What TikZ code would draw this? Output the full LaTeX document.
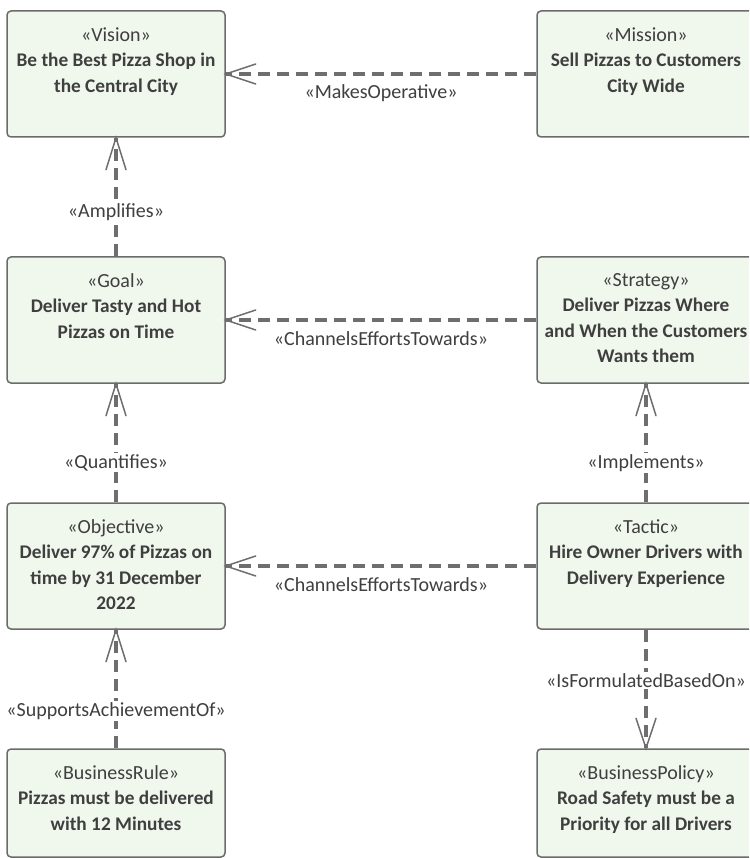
\documentclass[tikz,border=0pt]{standalone}
\usepackage{fontspec}
\setmainfont{Carlito}
\usetikzlibrary{calc}
\definecolor{boxfill}{HTML}{F0F8EE}
\definecolor{boxline}{HTML}{6B6B6B}
\definecolor{txt}{HTML}{3F3F3F}
\definecolor{conn}{HTML}{6E6E6E}
\newcommand{\nm}[1]{{\fontsize{19.3}{25.5}\selectfont\bfseries #1}}
\tikzset{
  elem/.style={draw=boxline, fill=boxfill, line width=1.5pt, rounded corners=4pt,
    minimum width=218pt, minimum height=126pt, inner sep=0pt},
  shortelem/.style={elem, minimum height=108pt},
  elemtext/.style={anchor=north, inner sep=0pt, align=center, text=txt,
    font=\fontsize{20}{25.5}\selectfont},
  rel/.style={draw=conn, line width=4pt, dash pattern=on 12pt off 7pt},
  barb/.style={draw=conn, line width=1.5pt, line cap=round},
  rellabel/.style={fill=white, inner sep=1.5pt, text=txt,
    font=\fontsize{20}{24}\selectfont},
}
\begin{document}
\begin{tikzpicture}[x=1pt,y=-1pt]
\useasboundingbox (0,0) rectangle (749,858);
\clip (0,0) rectangle (749,858);

% element boxes
\node[elem] (vision)    at (116,74)  {};
\node[elem] (mission)   at (646,74)  {};
\node[elem] (goal)      at (116,320) {};
\node[elem] (strategy)  at (646,320) {};
\node[elem] (objective) at (116,566) {};
\node[elem] (tactic)    at (646,566) {};
\node[shortelem] (rule)   at (116,803) {};
\node[shortelem] (policy) at (646,803) {};

% texts
\node[elemtext] (visiont) at ($(vision.north)+(0,17)$)
  {«Vision»\\\nm{Be the Best Pizza Shop in}\\\nm{the Central City}};
\node[elemtext] (missiont) at ($(mission.north)+(0,17)$)
  {«Mission»\\\nm{Sell Pizzas to Customers}\\\nm{City Wide}};
\node[elemtext] (goalt) at ($(goal.north)+(0,17)$)
  {«Goal»\\\nm{Deliver Tasty and Hot}\\\nm{Pizzas on Time}};
\node[elemtext] (strategyt) at ($(strategy.north)+(0,17)$)
  {«Strategy»\\\nm{Deliver Pizzas Where}\\\nm{and When the Customers}\\\nm{Wants them}};
\node[elemtext] (objectivet) at ($(objective.north)+(0,17)$)
  {«Objective»\\\nm{Deliver 97\% of Pizzas on}\\\nm{time by 31 December}\\\nm{2022}};
\node[elemtext] (tactict) at ($(tactic.north)+(0,17)$)
  {«Tactic»\\\nm{Hire Owner Drivers with}\\\nm{Delivery Experience}};
\node[elemtext] (rulet) at ($(rule.north)+(0,17)$)
  {«BusinessRule»\\\nm{Pizzas must be delivered}\\\nm{with 12 Minutes}};
\node[elemtext] (policyt) at ($(policy.north)+(0,17)$)
  {«BusinessPolicy»\\\nm{Road Safety must be a}\\\nm{Priority for all Drivers}};

% horizontal connectors
\draw[rel] (mission.west) -- (vision.east);
\draw[barb] ($(vision.east)+(30,-10)$) -- (vision.east) -- ($(vision.east)+(30,10)$);
\node[rellabel] (l1) at ($(vision.east)!0.5!(mission.west)+(0,19)$) {«MakesOperative»};

\draw[rel] (strategy.west) -- (goal.east);
\draw[barb] ($(goal.east)+(30,-10)$) -- (goal.east) -- ($(goal.east)+(30,10)$);
\node[rellabel] (l2) at ($(goal.east)!0.5!(strategy.west)+(0,19)$) {«ChannelsEffortsTowards»};

\draw[rel] (tactic.west) -- (objective.east);
\draw[barb] ($(objective.east)+(30,-10)$) -- (objective.east) -- ($(objective.east)+(30,10)$);
\node[rellabel] (l3) at ($(objective.east)!0.5!(tactic.west)+(0,19)$) {«ChannelsEffortsTowards»};

% vertical connectors
\draw[rel] (goal.north) -- (vision.south);
\draw[barb] ($(vision.south)+(-10,32)$) -- (vision.south) -- ($(vision.south)+(10,32)$);
\node[rellabel] (l4) at ($(vision.south)+(0,74)$) {«Amplifies»};

\draw[rel] (objective.north) -- (goal.south);
\draw[barb] ($(goal.south)+(-10,32)$) -- (goal.south) -- ($(goal.south)+(10,32)$);
\node[rellabel] (l5) at ($(goal.south)+(0,79)$) {«Quantifies»};

\draw[rel] (tactic.north) -- (strategy.south);
\draw[barb] ($(strategy.south)+(-10,32)$) -- (strategy.south) -- ($(strategy.south)+(10,32)$);
\node[rellabel] (l6) at ($(strategy.south)+(0,79)$) {«Implements»};

\draw[rel] (rule.north) -- (objective.south);
\draw[barb] ($(objective.south)+(-10,32)$) -- (objective.south) -- ($(objective.south)+(10,32)$);
\node[rellabel] (l7) at ($(objective.south)+(0,81)$) {«SupportsAchievementOf»};

\draw[rel] (tactic.south) -- (policy.north);
\draw[barb] ($(policy.north)+(-10,-30)$) -- (policy.north) -- ($(policy.north)+(10,-30)$);
\node[rellabel] (l8) at ($(tactic.south)+(0,51)$) {«IsFormulatedBasedOn»};
\end{tikzpicture}
\end{document}
